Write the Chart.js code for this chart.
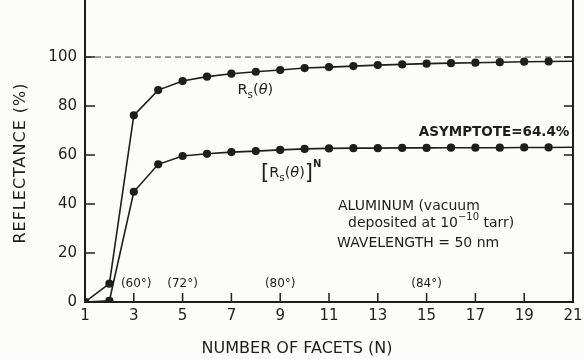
<!DOCTYPE html>
<html>
<head>
<meta charset="utf-8">
<script src="https://cdn.jsdelivr.net/npm/chart.js@4.4.1/dist/chart.umd.min.js"></script>
<style>
  html, body { margin: 0; padding: 0; background: #fcfcfa; }
  #wrap { width: 584px; height: 359px; }
</style>
</head>
<body>
<div id="wrap"><canvas id="facets"></canvas></div>
<script>
// number of facets N
const facets = [1, 2, 3, 4, 5, 6, 7, 8, 9, 10, 11, 12, 13, 14, 15, 16, 17, 18, 19, 20, 21];
// single-facet reflectance Rs(theta), %
const rsTheta = [0, 7.5, 76.2, 86.5, 90.2, 92.0, 93.2, 94.0, 94.7, 95.5, 95.9, 96.3, 96.7, 97.0, 97.3, 97.5, 97.7, 97.9, 98.1, 98.2, 98.3];
// total reflectance [Rs(theta)]^N, %
const rsPowN = [0, 0.5, 45.0, 56.2, 59.6, 60.5, 61.2, 61.6, 62.1, 62.5, 62.7, 62.8, 62.8, 62.9, 62.9, 63.0, 63.0, 63.0, 63.1, 63.1, 63.2];
const xTicks = [1, 3, 5, 7, 9, 11, 13, 15, 17, 19, 21];
const yTicks = [0, 20, 40, 60, 80, 100];
const fullRefl = 100;
// incidence angles marked along the N axis
const angleN = [3.1, 5, 9, 15];
const angleLabels = ['(60°)', '(72°)', '(80°)', '(84°)'];

const ink = '#1e1e1e';
const fam = '"DejaVu Sans", sans-serif';

function rich(ctx, x, y, parts, align) {
  let w = 0;
  parts.forEach(p => { ctx.font = p.font; w += ctx.measureText(p.t).width; });
  let cx = align === 'center' ? x - w / 2 : align === 'right' ? x - w : x;
  ctx.textAlign = 'left';
  ctx.textBaseline = 'middle';
  parts.forEach(p => {
    ctx.font = p.font;
    ctx.fillText(p.t, cx, y + (p.dy || 0));
    cx += ctx.measureText(p.t).width;
  });
}

const decorations = {
  id: 'decorations',
  afterDatasetsDraw(chart) {
    const { ctx, chartArea: a, scales: { x, y } } = chart;
    ctx.save();
    ctx.strokeStyle = ink;
    ctx.fillStyle = ink;
    ctx.lineWidth = 2;
    ctx.beginPath();
    ctx.moveTo(a.right, 0);
    ctx.lineTo(a.right, a.bottom + 1);
    ctx.moveTo(a.left, 0);
    ctx.lineTo(a.left, a.bottom);
    ctx.stroke();

    // inward tick marks
    ctx.lineWidth = 1.5;
    ctx.beginPath();
    yTicks.slice(1).forEach(v => {
      const py = y.getPixelForValue(v);
      ctx.moveTo(a.left, py); ctx.lineTo(a.left + 10, py);
      ctx.moveTo(a.right, py); ctx.lineTo(a.right - 9, py);
    });
    xTicks.slice(1, -1).forEach(v => {
      const px = x.getPixelForValue(v);
      ctx.moveTo(px, a.bottom); ctx.lineTo(px, a.bottom - 9);
    });
    ctx.stroke();

    // angle labels
    angleN.forEach((n, i) => {
      rich(ctx, x.getPixelForValue(n), y.getPixelForValue(7.5),
        [{ t: angleLabels[i], font: `12px ${fam}` }], 'center');
    });

    // curve labels
    const f = `14.5px ${fam}`, fi = `italic 14.5px ${fam}`, fs = `10.5px ${fam}`;
    rich(ctx, x.getPixelForValue(7.98), y.getPixelForValue(86.5), [
      { t: 'R', font: f }, { t: 's', font: fs, dy: 5 },
      { t: '(', font: f }, { t: 'θ', font: fi }, { t: ')', font: f }
    ], 'center');
    rich(ctx, x.getPixelForValue(9.45), y.getPixelForValue(52.5), [
      { t: '[', font: `21px ${fam}` }, { t: 'R', font: f }, { t: 's', font: fs, dy: 5 },
      { t: '(', font: f }, { t: 'θ', font: fi }, { t: ')', font: f },
      { t: ']', font: `21px ${fam}` }, { t: 'N', font: `bold 10px ${fam}`, dy: -9 }
    ], 'center');
    rich(ctx, x.getPixelForValue(20.85), y.getPixelForValue(69), [
      { t: 'ASYMPTOTE=64.4%', font: `bold 13.5px ${fam}` }
    ], 'right');

    // sample note
    const fn = `14px ${fam}`;
    rich(ctx, x.getPixelForValue(11.37), y.getPixelForValue(39.2),
      [{ t: 'ALUMINUM (vacuum', font: fn }], 'left');
    rich(ctx, x.getPixelForValue(11.78), y.getPixelForValue(32.2), [
      { t: 'deposited at 10', font: fn }, { t: '−10', font: `10px ${fam}`, dy: -6 },
      { t: ' tarr)', font: fn }
    ], 'left');
    rich(ctx, x.getPixelForValue(11.33), y.getPixelForValue(24.1),
      [{ t: 'WAVELENGTH = 50 nm', font: fn }], 'left');

    // axis titles
    ctx.font = `16px ${fam}`;
    ctx.textAlign = 'center';
    ctx.textBaseline = 'middle';
    ctx.fillText('NUMBER OF FACETS (N)', 297, 349);
    ctx.translate(21, 163);
    ctx.rotate(-Math.PI / 2);
    ctx.letterSpacing = '1px';
    ctx.fillText('REFLECTANCE (%)', 0, 0);
    ctx.restore();
  }
};

const pts = vals => facets.map((n, i) => ({ x: n, y: vals[i] }));
const dotSizes = facets.map(n => (n === 21 ? 0 : 3.3));

new Chart(document.getElementById('facets'), {
  type: 'line',
  data: {
    datasets: [{
      label: 'Rs(θ)',
      data: pts(rsTheta),
      borderColor: ink,
      backgroundColor: ink,
      borderWidth: 1.6,
      pointRadius: dotSizes,
      tension: 0
    }, {
      label: '[Rs(θ)]^N',
      data: pts(rsPowN),
      borderColor: ink,
      backgroundColor: ink,
      borderWidth: 1.6,
      pointRadius: dotSizes,
      tension: 0
    }, {
      label: '100%',
      data: [{ x: facets[0], y: fullRefl }, { x: facets[facets.length - 1], y: fullRefl }],
      borderColor: '#444',
      borderWidth: 1,
      borderDash: [6, 4],
      pointRadius: 0
    }]
  },
  options: {
    responsive: true,
    maintainAspectRatio: false,
    animation: false,
    layout: { padding: { top: 0, right: 11, left: 0, bottom: 0 } },
    plugins: { legend: { display: false }, tooltip: { enabled: false } },
    scales: {
      x: {
        type: 'linear',
        min: 1,
        max: 21,
        afterFit: s => { s.height = 57; s.paddingLeft = 0; s.paddingRight = 0; },
        afterBuildTicks: s => { s.ticks = xTicks.map(v => ({ value: v })); },
        grid: { drawOnChartArea: false, drawTicks: false },
        border: { display: true, color: ink, width: 2 },
        ticks: { padding: 5, color: ink, font: { family: fam, size: 15 }, maxRotation: 0 }
      },
      y: {
        min: 0,
        max: 121,
        afterFit: s => { s.width = 85; s.paddingTop = 0; s.paddingBottom = 0; },
        afterBuildTicks: s => { s.ticks = yTicks.map(v => ({ value: v })); },
        grid: { drawOnChartArea: false, drawTicks: false },
        border: { display: true, color: ink, width: 2 },
        ticks: { padding: 8, color: ink, font: { family: fam, size: 15 } }
      }
    }
  },
  plugins: [decorations]
});
</script>
</body>
</html>
